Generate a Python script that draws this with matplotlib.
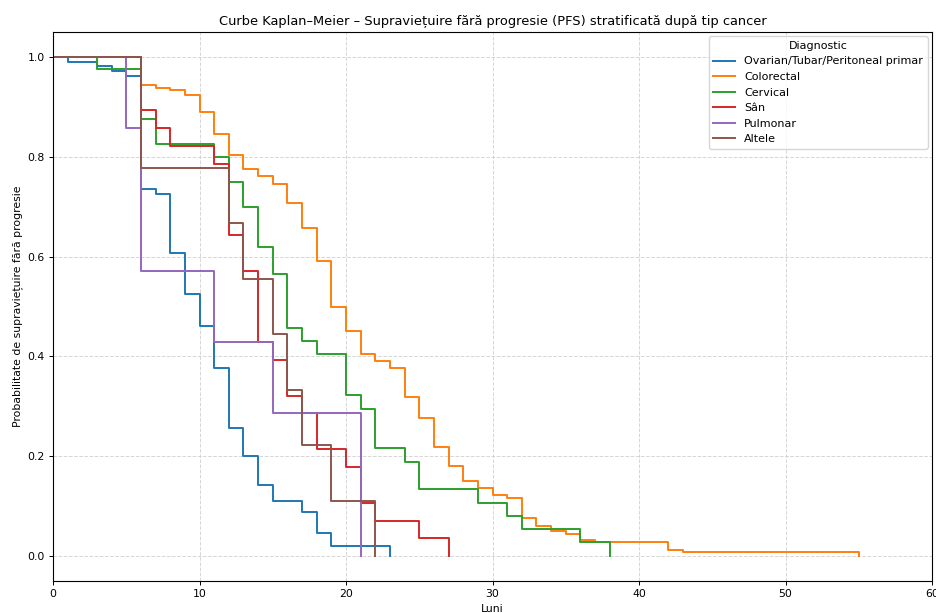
import matplotlib
matplotlib.use("Agg")
import matplotlib.pyplot as plt

title = "Curbe Kaplan–Meier – Supraviețuire fără progresie (PFS) stratificată după tip cancer"
xlabel = "Luni"
ylabel = "Probabilitate de supraviețuire fără progresie"
legend_title = "Diagnostic"

groups = ["Ovarian/Tubar/Peritoneal primar", "Colorectal", "Cervical", "Sân", "Pulmonar", "Altele"]

ovarian_t = [0, 1, 3, 4, 5, 6, 7, 8, 9, 10, 11, 12, 13, 14, 15, 17, 18, 19, 23]
ovarian_s = [1.0, 0.990, 0.981, 0.971, 0.961, 0.735, 0.726, 0.608, 0.526, 0.460, 0.377, 0.256, 0.200, 0.142, 0.110, 0.088, 0.046, 0.021, 0.0]

colorectal_t = [0, 6, 7, 8, 9, 10, 11, 12, 13, 14, 15, 16, 17, 18, 19, 20, 21, 22, 23, 24, 25, 26, 27, 28, 29, 30, 31, 32, 33, 34, 35, 36, 37, 42, 43, 55]
colorectal_s = [1.0, 0.943, 0.938, 0.933, 0.924, 0.890, 0.845, 0.804, 0.775, 0.761, 0.746, 0.707, 0.658, 0.591, 0.500, 0.450, 0.405, 0.390, 0.376, 0.318, 0.277, 0.218, 0.181, 0.150, 0.137, 0.122, 0.116, 0.077, 0.061, 0.050, 0.045, 0.033, 0.028, 0.013, 0.008, 0.0]

cervical_t = [0, 3, 6, 7, 11, 12, 13, 14, 15, 16, 17, 18, 20, 21, 22, 24, 25, 29, 31, 32, 36, 38]
cervical_s = [1.0, 0.975, 0.875, 0.825, 0.800, 0.750, 0.700, 0.619, 0.565, 0.456, 0.430, 0.404, 0.323, 0.295, 0.216, 0.188, 0.134, 0.107, 0.081, 0.054, 0.028, 0.0]

san_t = [0, 6, 7, 8, 11, 12, 13, 14, 15, 16, 17, 18, 20, 21, 22, 25, 27]
san_s = [1.0, 0.893, 0.857, 0.821, 0.786, 0.643, 0.571, 0.429, 0.393, 0.321, 0.286, 0.214, 0.179, 0.107, 0.071, 0.036, 0.0]

pulmonar_t = [0, 5, 6, 11, 15, 21]
pulmonar_s = [1.0, 0.857, 0.571, 0.429, 0.286, 0.0]

altele_t = [0, 6, 12, 13, 15, 16, 17, 19, 22]
altele_s = [1.0, 0.778, 0.667, 0.556, 0.444, 0.333, 0.222, 0.111, 0.0]

series = [(ovarian_t, ovarian_s), (colorectal_t, colorectal_s), (cervical_t, cervical_s),
          (san_t, san_s), (pulmonar_t, pulmonar_s), (altele_t, altele_s)]
colors = ["#1f77b4", "#ff7f0e", "#2ca02c", "#d62728", "#9467bd", "#8c564b"]

fig = plt.figure(figsize=(9.36, 6.13), dpi=100)
ax = fig.add_axes([53/936, (613-581)/613, 879/936, 549/613])

for name, (t, s), c in zip(groups, series, colors):
    ax.step(t, s, where="post", color=c, lw=1.4, label=name)

ax.set_xlim(0, 60)
ax.set_ylim(-0.05, 1.05)
ax.set_xticks([0, 10, 20, 30, 40, 50, 60])
ax.set_yticks([0.0, 0.2, 0.4, 0.6, 0.8, 1.0])
ax.grid(True, linestyle="--", color="#cccccc", alpha=0.8, lw=0.7)
ax.set_title(title, fontsize=9.4, pad=5)
ax.set_xlabel(xlabel, fontsize=7.8, labelpad=3)
ax.set_ylabel(ylabel, fontsize=7.8, labelpad=3)
ax.tick_params(labelsize=7.8, length=3, width=0.7, pad=3)
for sp in ax.spines.values():
    sp.set_linewidth(0.8)
ax.legend(title=legend_title, loc="upper right", fontsize=8, title_fontsize=8,
          borderaxespad=0.4)

fig.savefig("out.png", dpi=100)
